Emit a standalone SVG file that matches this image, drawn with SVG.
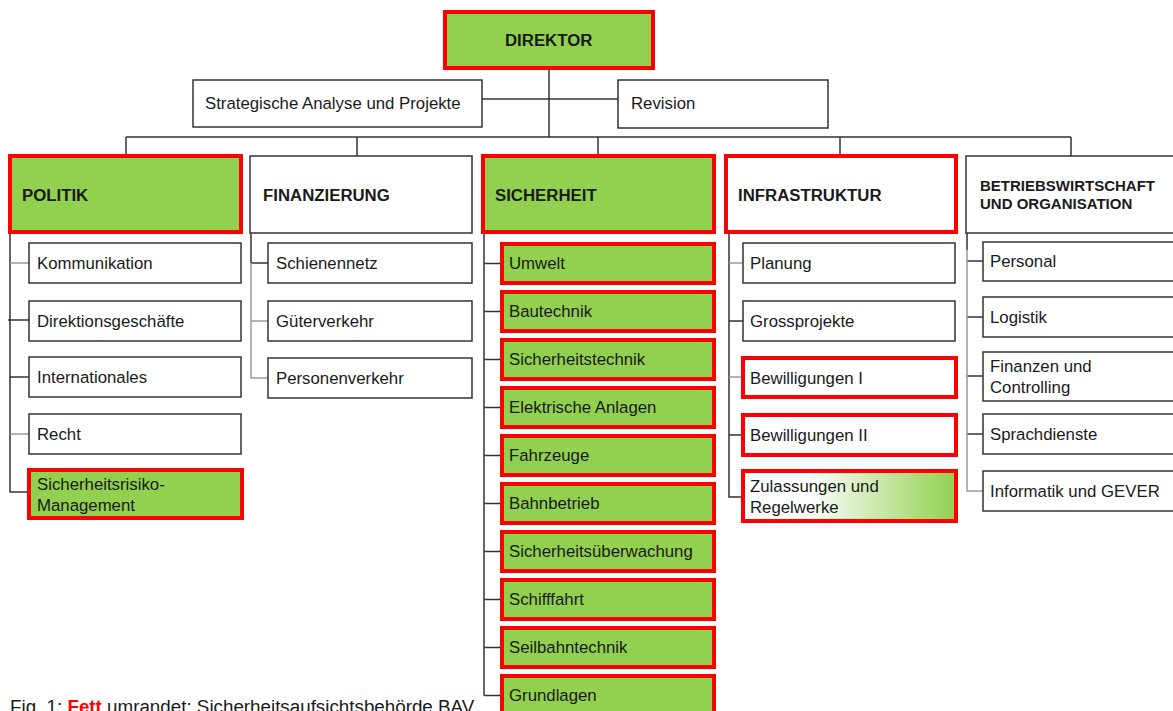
<svg xmlns="http://www.w3.org/2000/svg" width="1173" height="711" viewBox="0 0 1173 711">
<style>
  text { font-family: "Liberation Sans", Arial, sans-serif; font-size: 16.8px; fill: #1a1a1a; }
  .h { font-weight: bold; font-size: 16.8px; }
  .box { fill: #ffffff; stroke: #333333; stroke-width: 1.5; }
  .red { fill: #ffffff; stroke: #ff0000; stroke-width: 4; }
  .redg { fill: #92d050; stroke: #ff0000; stroke-width: 4; }
  .ln { stroke: #333333; stroke-width: 1.5; fill: none; }
  .lg { stroke: #9a9a9a; stroke-width: 1.5; fill: none; }
</style>
<defs>
  <linearGradient id="grad" x1="0" y1="0" x2="1" y2="0">
    <stop offset="0.3" stop-color="#ffffff"/>
    <stop offset="1" stop-color="#92d050"/>
  </linearGradient>
</defs>
<rect x="0" y="0" width="1173" height="711" fill="#ffffff"/>

<g id="connectors">
  <path class="ln" d="M549 70 V137 M482 99 H618 M126 137 H1071 M126 137 V154 M357 137 V156 M598 137 V154 M840 137 V154 M1071 137 V156"/>
  <path class="ln" d="M10 234 V492 H29 M8 320 H29 M10 377 H29"/>
  <path class="lg" d="M10 263 H29 M10 434 H29"/>
  <path class="ln" d="M251 233 V263 M251 263 H268"/>
  <path class="lg" d="M251 263 V378 H268 M251 321 H268"/>
  <path class="ln" d="M484 234 V695.5 M484 263.5 H502 M484 311.5 H502 M484 359.5 H502 M484 407.5 H502 M484 455.5 H502 M484 503.5 H502 M484 551.5 H502 M484 599.5 H502 M484 647.5 H502 M484 695.5 H502"/>
  <path class="ln" d="M729 234 V497 H743 M729 321 H743 M729 435 H743"/>
  <path class="lg" d="M729 263 H743 M729 377 H743"/>
  <path class="ln" d="M967 233 V250 M967 261 H983 M967 317 H983 M967 376 H983 M967 434 H983"/>
  <path class="lg" d="M967 250 V491 H983"/>
</g>

<g id="direktor"><rect class="redg" x="445" y="12" width="208" height="56"/><text class="h" x="505" y="46">DIREKTOR</text></g>
<g id="strategische"><rect class="box" x="193" y="80" width="289" height="47"/><text x="205" y="109">Strategische Analyse und Projekte</text></g>
<g id="revision"><rect class="box" x="618" y="80" width="210" height="48"/><text x="631" y="109">Revision</text></g>

<g id="politik"><rect class="redg" x="10" y="156" width="231" height="76"/><text class="h" x="22" y="201">POLITIK</text></g>
<g id="finanzierung"><rect class="box" x="250" y="156" width="222" height="77"/><text class="h" x="263" y="201">FINANZIERUNG</text></g>
<g id="sicherheit"><rect class="redg" x="483" y="156" width="231" height="76"/><text class="h" x="495" y="201">SICHERHEIT</text></g>
<g id="infrastruktur"><rect class="red" x="726" y="156" width="230" height="76"/><text class="h" x="738" y="201">INFRASTRUKTUR</text></g>
<g id="betriebswirtschaft"><rect class="box" x="966" y="156" width="220" height="77"/><text class="h" x="980" y="191" style="font-size:15px">BETRIEBSWIRTSCHAFT</text><text class="h" x="980" y="209" style="font-size:15px">UND ORGANISATION</text></g>

<g id="kommunikation"><rect class="box" x="29" y="243" width="212" height="40"/><text x="37" y="269">Kommunikation</text></g>
<g id="direktionsgeschaefte"><rect class="box" x="29" y="301" width="212" height="40"/><text x="37" y="327">Direktionsgeschäfte</text></g>
<g id="internationales"><rect class="box" x="29" y="357" width="212" height="40"/><text x="37" y="383">Internationales</text></g>
<g id="recht"><rect class="box" x="29" y="414" width="212" height="40"/><text x="37" y="440">Recht</text></g>
<g id="sicherheitsrisiko"><rect class="redg" x="29" y="470" width="213" height="48"/><text x="37" y="490">Sicherheitsrisiko-</text><text x="37" y="511">Management</text></g>

<g id="schienennetz"><rect class="box" x="268" y="243" width="204" height="40"/><text x="276" y="269">Schienennetz</text></g>
<g id="gueterverkehr"><rect class="box" x="268" y="301" width="204" height="40"/><text x="276" y="327">Güterverkehr</text></g>
<g id="personenverkehr"><rect class="box" x="268" y="358" width="204" height="40"/><text x="276" y="384">Personenverkehr</text></g>

<g id="umwelt"><rect class="redg" x="502" y="244" width="212" height="39"/><text x="509" y="269">Umwelt</text></g>
<g id="bautechnik"><rect class="redg" x="502" y="292" width="212" height="39"/><text x="509" y="317">Bautechnik</text></g>
<g id="sicherheitstechnik"><rect class="redg" x="502" y="340" width="212" height="39"/><text x="509" y="365">Sicherheitstechnik</text></g>
<g id="elektrische"><rect class="redg" x="502" y="388" width="212" height="39"/><text x="509" y="413">Elektrische Anlagen</text></g>
<g id="fahrzeuge"><rect class="redg" x="502" y="436" width="212" height="39"/><text x="509" y="461">Fahrzeuge</text></g>
<g id="bahnbetrieb"><rect class="redg" x="502" y="484" width="212" height="39"/><text x="509" y="509">Bahnbetrieb</text></g>
<g id="sicherheitsueberwachung"><rect class="redg" x="502" y="532" width="212" height="39"/><text x="509" y="557">Sicherheitsüberwachung</text></g>
<g id="schifffahrt"><rect class="redg" x="502" y="580" width="212" height="39"/><text x="509" y="605">Schifffahrt</text></g>
<g id="seilbahntechnik"><rect class="redg" x="502" y="628" width="212" height="39"/><text x="509" y="653">Seilbahntechnik</text></g>
<g id="grundlagen"><rect class="redg" x="502" y="676" width="212" height="39"/><text x="509" y="701">Grundlagen</text></g>

<g id="planung"><rect class="box" x="743" y="243" width="212" height="40"/><text x="750" y="269">Planung</text></g>
<g id="grossprojekte"><rect class="box" x="743" y="301" width="212" height="40"/><text x="750" y="327">Grossprojekte</text></g>
<g id="bewilligungen1"><rect class="red" x="743" y="358" width="213" height="39"/><text x="750" y="384">Bewilligungen I</text></g>
<g id="bewilligungen2"><rect class="red" x="743" y="415" width="213" height="40"/><text x="750" y="441">Bewilligungen II</text></g>
<g id="zulassungen"><rect x="743" y="471" width="213" height="50" fill="url(#grad)" stroke="#ff0000" stroke-width="4"/><text x="750" y="492">Zulassungen und</text><text x="750" y="513">Regelwerke</text></g>

<g id="personal"><rect class="box" x="983" y="242" width="200" height="39"/><text x="990" y="267">Personal</text></g>
<g id="logistik"><rect class="box" x="983" y="297" width="200" height="40"/><text x="990" y="323">Logistik</text></g>
<g id="finanzen"><rect class="box" x="983" y="352" width="200" height="49"/><text x="990" y="372">Finanzen und</text><text x="990" y="393">Controlling</text></g>
<g id="sprachdienste"><rect class="box" x="983" y="414" width="200" height="40"/><text x="990" y="440">Sprachdienste</text></g>
<g id="informatik"><rect class="box" x="983" y="471" width="200" height="40"/><text x="990" y="497">Informatik und GEVER</text></g>

<text x="10" y="713" style="font-size:18.8px">Fig. 1:  <tspan style="fill:#ff0000;font-weight:bold">Fett</tspan> umrandet: Sicherheitsaufsichtsbehörde BAV</text>
</svg>
